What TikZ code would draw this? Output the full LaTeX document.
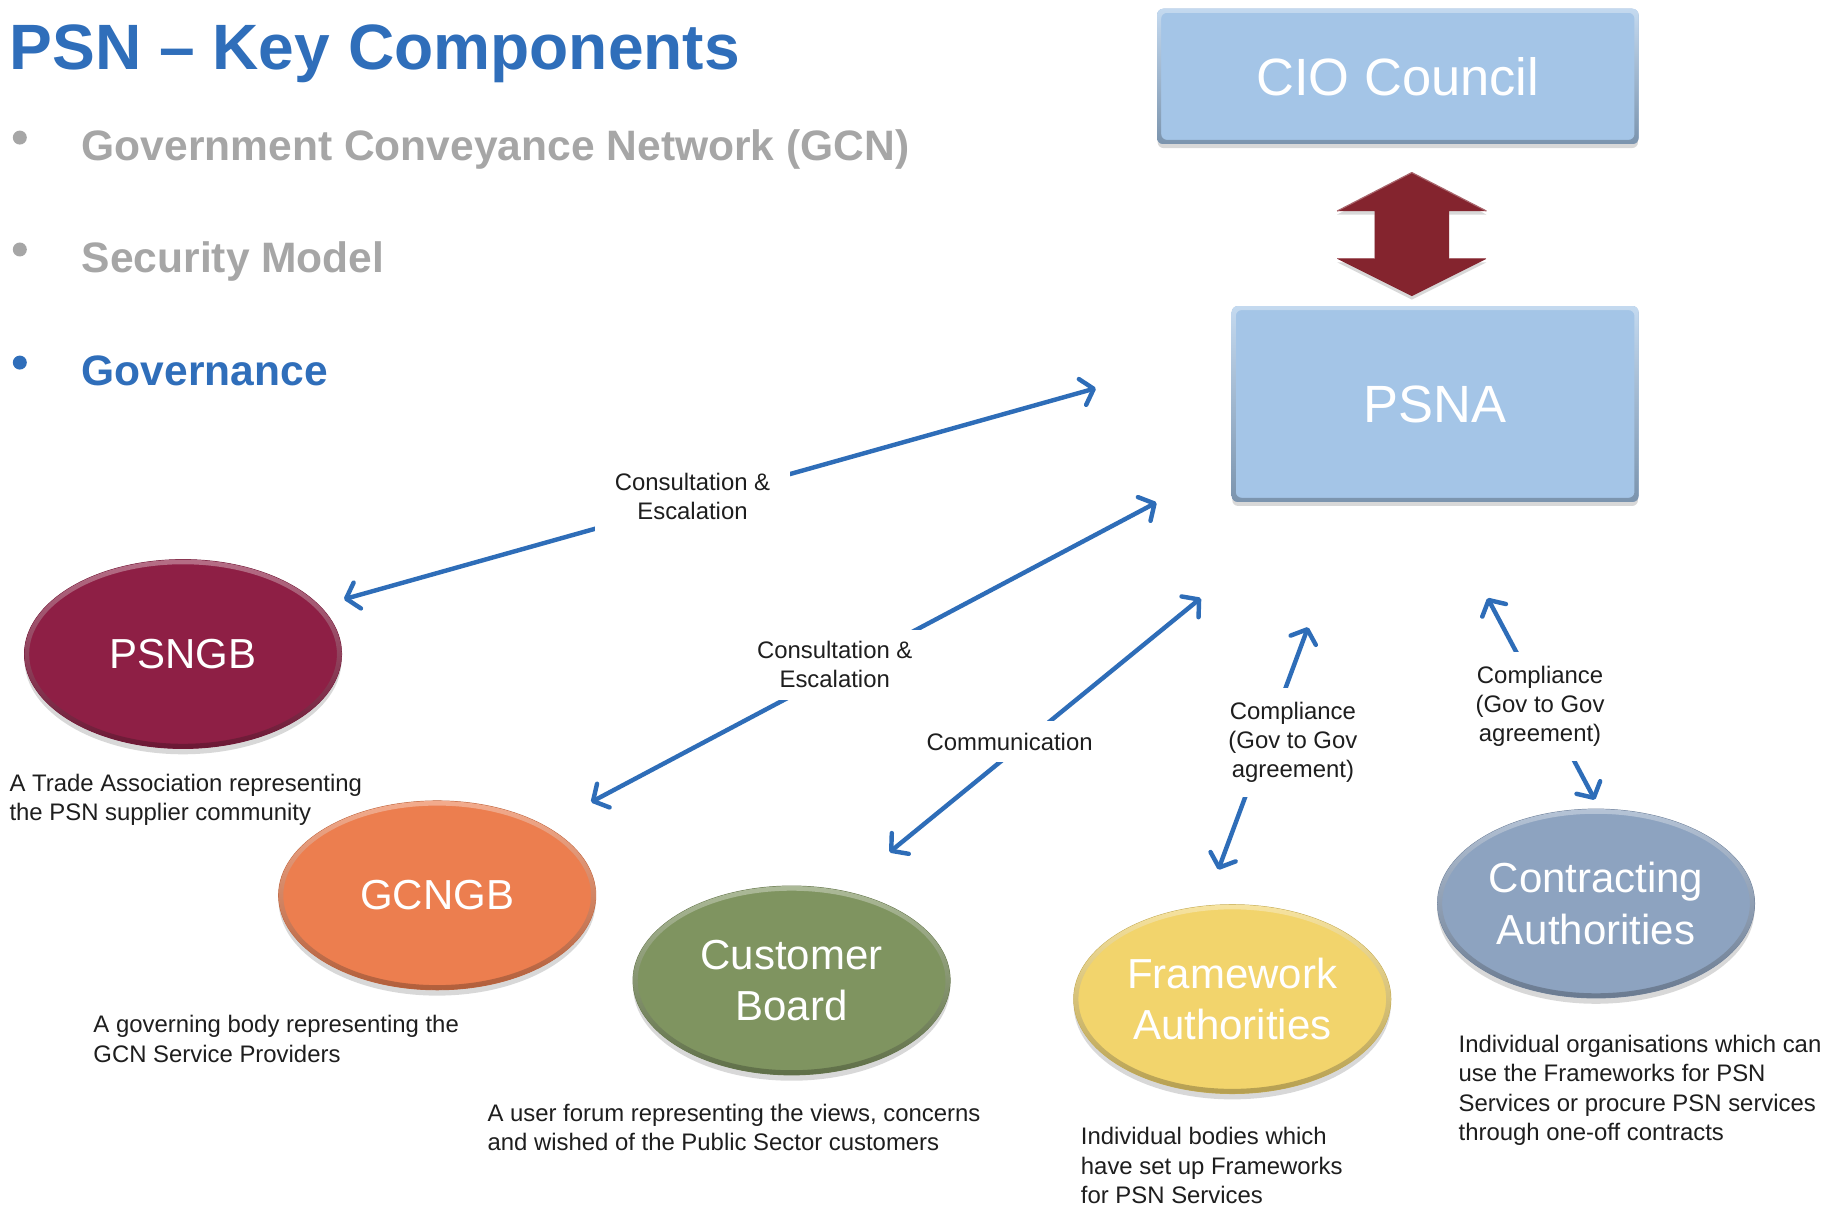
\documentclass[tikz,border=0pt]{standalone}
\usepackage{fontspec}
\setmainfont{Liberation Sans}
\usetikzlibrary{arrows.meta,shapes.geometric,shadows}
\definecolor{titleblue}{HTML}{2F6EBA}
\definecolor{bulletgray}{HTML}{A6A6A6}
\definecolor{boxblue}{HTML}{A4C5E7}
\definecolor{boxedge}{HTML}{86A6CC}
\definecolor{darkred}{HTML}{84242E}
\definecolor{psngbc}{HTML}{8E1F45}
\definecolor{gcngbc}{HTML}{EC7E4F}
\definecolor{custc}{HTML}{7F9460}
\definecolor{framec}{HTML}{F2D46C}
\definecolor{contrc}{HTML}{8DA3C0}
\definecolor{arrowblue}{HTML}{2E6DB8}
\definecolor{txt}{HTML}{1E1E1E}
\begin{document}
\begin{tikzpicture}[x=1pt,y=-1pt,
  topbox/.style={rectangle, rounded corners=5pt, fill=boxblue, draw=boxedge, line width=1pt,
    text=white, font=\fontsize{45}{54}\selectfont,
    drop shadow={shadow xshift=0pt, shadow yshift=-4pt, opacity=0.3}},
  oval/.style={ellipse, minimum width=272pt, minimum height=162pt, inner sep=0pt,
    fill=#1, draw=#1!80!black, line width=0.8pt, text=white, align=center,
    font=\fontsize{36}{44}\selectfont,
    drop shadow={shadow xshift=0pt, shadow yshift=-5pt, opacity=0.3}},
  bevel/.style={even odd rule, top color=#1!65!white, middle color=#1, bottom color=#1!75!black},
  capt/.style={anchor=north west, inner sep=0pt, text=txt, align=left,
    font=\fontsize{20.5}{25}\selectfont},
  lab/.style={fill=white, text=txt, align=center, inner sep=10pt,
    font=\fontsize{20.5}{25}\selectfont},
  conn/.style={draw=arrowblue, line width=3.8pt,
    {Straight Barb[length=10pt,width=23pt,round]}-{Straight Barb[length=10pt,width=23pt,round]}},
  bul/.style={anchor=base west, inner sep=0pt, font=\bfseries\fontsize{36.5}{40}\selectfont}
]
\useasboundingbox (0,0) rectangle (1568,1034);
\fill[white] (0,0) rectangle (1568,1034);

% title and bullets
\node[anchor=base west, inner sep=0pt, text=titleblue, font=\bfseries\fontsize{55}{60}\selectfont] (title) at (8,60) {PSN – Key Components};
\fill[bulletgray] (17,118) circle (6pt);
\fill[bulletgray] (17,214) circle (6pt);
\fill[titleblue] (17,311) circle (6pt);
\node[bul, text=bulletgray] (b1) at (70,138) {Government Conveyance Network (GCN)};
\node[bul, text=bulletgray] (b2) at (70,234) {Security Model};
\node[bul, text=titleblue] (b3) at (70,331) {Governance};

% boxes
\node[topbox, minimum width=412pt, minimum height=115pt] (cio) at (1199,65.5) {CIO Council};
\shade[bevel=boxblue, rounded corners=5pt] (cio.north west) rectangle (cio.south east)
  ([xshift=3.5pt,yshift=-3.5pt]cio.north west) rectangle ([xshift=-3.5pt,yshift=3.5pt]cio.south east);
\node[topbox, minimum width=348pt, minimum height=167pt] (psna) at (1231,346.5) {PSNA};
\shade[bevel=boxblue, rounded corners=5pt] (psna.north west) rectangle (psna.south east)
  ([xshift=3.5pt,yshift=-3.5pt]psna.north west) rectangle ([xshift=-3.5pt,yshift=3.5pt]psna.south east);

% double arrow between the two boxes
\fill[darkred, drop shadow={shadow xshift=0pt, shadow yshift=-3pt, opacity=0.3}]
  (1211,148) -- (1275,181) -- (1243,181) -- (1243,222) -- (1275,222) -- (1211,254)
  -- (1147,222) -- (1179,222) -- (1179,181) -- (1147,181) -- cycle;
\draw[darkred!70!white, line width=1pt, line join=round]
  (1147,181) -- (1211,148) -- (1275,181);
\draw[darkred!70!white, line width=1pt, line join=round]
  (1147,222) -- (1179,222) (1243,222) -- (1275,222);

% ellipses
\node[oval=psngbc] (psngb) at (157,561) {PSNGB};
\node[oval=gcngbc] (gcngb) at (375,768) {GCNGB};
\node[oval=custc] (cust) at (679,841) {Customer\\Board};
\node[oval=framec] (frame) at (1057,857) {Framework\\Authorities};
\node[oval=contrc] (contr) at (1369,775) {Contracting\\Authorities};
\shade[bevel=psngbc] (psngb.center) ellipse [x radius=136, y radius=81] (psngb.center) ellipse [x radius=132, y radius=77];
\shade[bevel=gcngbc] (gcngb.center) ellipse [x radius=136, y radius=81] (gcngb.center) ellipse [x radius=132, y radius=77];
\shade[bevel=custc] (cust.center) ellipse [x radius=136, y radius=81] (cust.center) ellipse [x radius=132, y radius=77];
\shade[bevel=framec] (frame.center) ellipse [x radius=136, y radius=81] (frame.center) ellipse [x radius=132, y radius=77];
\shade[bevel=contrc] (contr.center) ellipse [x radius=136, y radius=81] (contr.center) ellipse [x radius=132, y radius=77];

% captions
\node[capt] (cap1) at (8,664) {A Trade Association representing\\the PSN supplier community};
\node[capt] (cap2) at (80,871) {A governing body representing the\\GCN Service Providers};
\node[capt] (cap3) at (418,947) {A user forum representing the views, concerns\\and wished of the Public Sector customers};
\node[capt] (cap4) at (927,967) {Individual bodies which\\have set up Frameworks\\for PSN Services};
\node[capt] (cap5) at (1251,888) {Individual organisations which can\\use the Frameworks for PSN\\Services or procure PSN services\\through one-off contracts};

% connector end points
\coordinate (c1a) at (295,514); \coordinate (c1b) at (940,333);
\coordinate (c2a) at (507,688); \coordinate (c2b) at (992,431);
\coordinate (c3a) at (763,731); \coordinate (c3b) at (1030,513);
\coordinate (c4a) at (1045,746); \coordinate (c4b) at (1122,538);
\coordinate (c5a) at (1368,686); \coordinate (c5b) at (1276,513);

\draw[conn] (c1a) -- (c1b);
\draw[conn] (c2a) -- (c2b);
\draw[conn] (c3a) -- (c3b);
\draw[conn] (c4a) -- (c4b);
\draw[conn] (c5a) -- (c5b);

% connector labels
\node[lab, inner sep=17pt] (l1) at (594,426) {Consultation \&\\Escalation};
\node[lab] (l2) at (716,570) {Consultation \&\\Escalation};
\node[lab] (l3) at (866,636) {Communication};
\node[lab, inner xsep=4pt, inner ysep=12pt] (l4) at (1109,637) {Compliance\\(Gov to Gov\\agreement)};
\node[lab, inner xsep=4pt, inner ysep=12pt] (l5) at (1321,606) {Compliance\\(Gov to Gov\\agreement)};
\end{tikzpicture}
\end{document}
